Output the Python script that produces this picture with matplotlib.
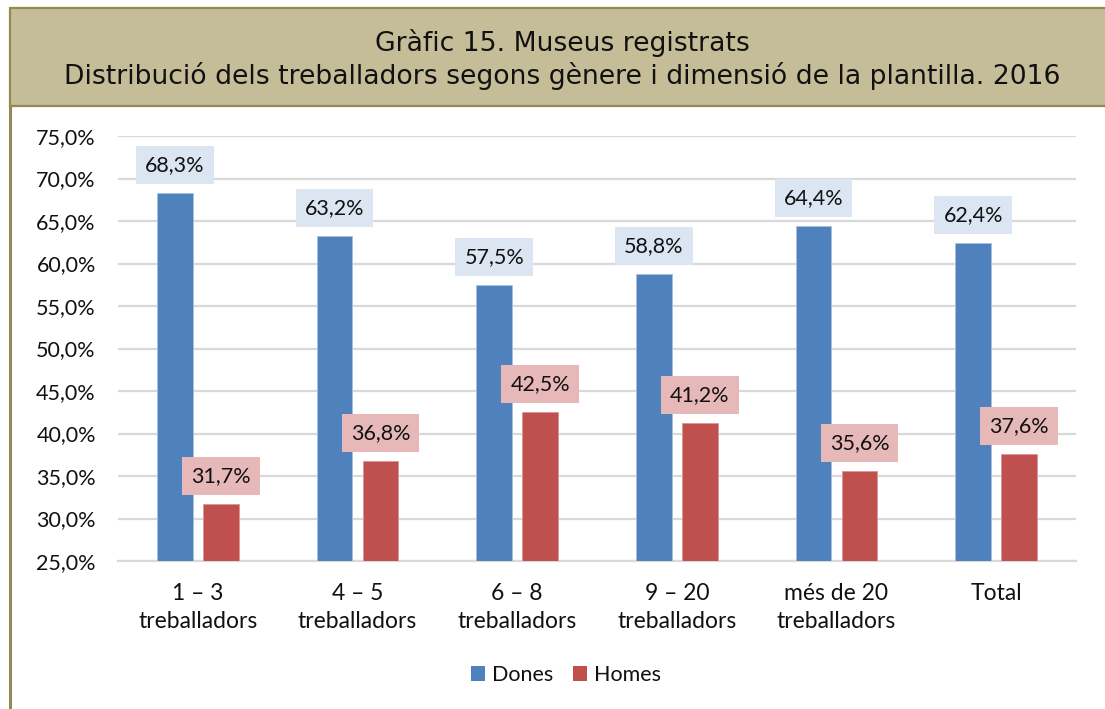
import matplotlib
matplotlib.use("Agg")
import matplotlib.pyplot as plt
from matplotlib.patches import Rectangle, Patch
from matplotlib.lines import Line2D
import numpy as np

categories = ["1 – 3\ntreballadors", "4 – 5\ntreballadors", "6 – 8\ntreballadors",
              "9 – 20\ntreballadors", "més de 20\ntreballadors", "Total"]
dones = [68.3, 63.2, 57.5, 58.8, 64.4, 62.4]
homes = [31.7, 36.8, 42.5, 41.2, 35.6, 37.6]
yticks = [25, 30, 35, 40, 45, 50, 55, 60, 65, 70, 75]
title1 = "Gràfic 15. Museus registrats"
title2 = "Distribució dels treballadors segons gènere i dimensió de la plantilla. 2016"

BLUE = "#4F81BD"
RED = "#C0504D"
BLUE_LBL = "#DCE6F2"
RED_LBL = "#E6B9B8"
GRID = "#D9D9D9"
TAN = "#C4BD97"
OLIVE = "#938953"
FONT = ["Lato", "DejaVu Sans"]
FS = 15.5

W, H = 1105, 709
fig = plt.figure(figsize=(W / 100, H / 100), dpi=100)
fig.patch.set_facecolor("white")

# title box & frame
fig.patches.append(Rectangle((10 / W, 1 - 106 / H), 1.2, (106 - 8) / H, transform=fig.transFigure,
                             facecolor=TAN, edgecolor=OLIVE, linewidth=1.6, zorder=0))
fig.lines.append(Line2D([10 / W, 10 / W], [0, 1 - 106 / H], transform=fig.transFigure,
                        color=OLIVE, linewidth=2.2))
fig.text(562 / W, 1 - 43 / H, title1, ha="center", va="center", fontsize=19.2,
         fontfamily="DejaVu Sans", color="#111111")
fig.text(562 / W, 1 - 76 / H, title2, ha="center", va="center", fontsize=19.2,
         fontfamily="DejaVu Sans", color="#111111")

ax = fig.add_axes([118 / W, 1 - 561 / H, (1076 - 118) / W, (561 - 136) / H])
x = np.arange(len(categories))
bw = 0.225
off = 0.144
ax.bar(x - off, [d - 25 for d in dones], bw, bottom=25, color=BLUE, edgecolor="#A7C0DE",
       linewidth=0.6, label="Dones", zorder=3)
ax.bar(x + off, [h - 25 for h in homes], bw, bottom=25, color=RED, edgecolor="#D99694",
       linewidth=0.6, label="Homes", zorder=3)

for xs, vals, col in [(x - off, dones, BLUE_LBL), (x + off, homes, RED_LBL)]:
    for xi, v in zip(xs, vals):
        ax.annotate(f"{v:.1f}%".replace(".", ","), (xi, v), xytext=(0, 18), textcoords="offset pixels",
                    ha="center", va="bottom", fontsize=FS, family=FONT, color="#111111",
                    bbox=dict(boxstyle="square,pad=0.42", facecolor=col, edgecolor="none"), zorder=5)

ax.set_xlim(-0.5, len(categories) - 0.5)
ax.set_ylim(25, 75)
ax.set_yticks(yticks)
ax.set_yticklabels([f"{t:.1f}%".replace(".", ",") for t in yticks])
ax.set_xticks(x)
ax.set_xticklabels(categories, linespacing=1.4)
for lbl in ax.get_yticklabels():
    lbl.set_fontfamily(FONT)
    lbl.set_fontsize(FS)
    lbl.set_color("#111111")
for lbl in ax.get_xticklabels():
    lbl.set_fontfamily(FONT)
    lbl.set_fontsize(16.5)
    lbl.set_color("#111111")
ax.tick_params(axis="both", length=0)
ax.tick_params(axis="y", pad=16)
ax.tick_params(axis="x", pad=16)
ax.grid(axis="y", color=GRID, linewidth=1.6, zorder=0)
ax.set_axisbelow(True)
for s in ["top", "right", "left"]:
    ax.spines[s].set_visible(False)
ax.spines["bottom"].set_color(GRID)
ax.spines["bottom"].set_linewidth(1.6)
ax.spines["bottom"].set_zorder(1)

leg = fig.legend(handles=[Patch(facecolor=BLUE, label="Dones"), Patch(facecolor=RED, label="Homes")],
                 loc="center", bbox_to_anchor=(566 / W, 1 - 675 / H), ncol=2, frameon=False,
                 prop={"family": FONT, "size": FS}, handlelength=0.65, handleheight=0.65,
                 handletextpad=0.35, columnspacing=0.9)
for t in leg.get_texts():
    t.set_color("#111111")

fig.savefig("out.png", dpi=100, facecolor="white")
